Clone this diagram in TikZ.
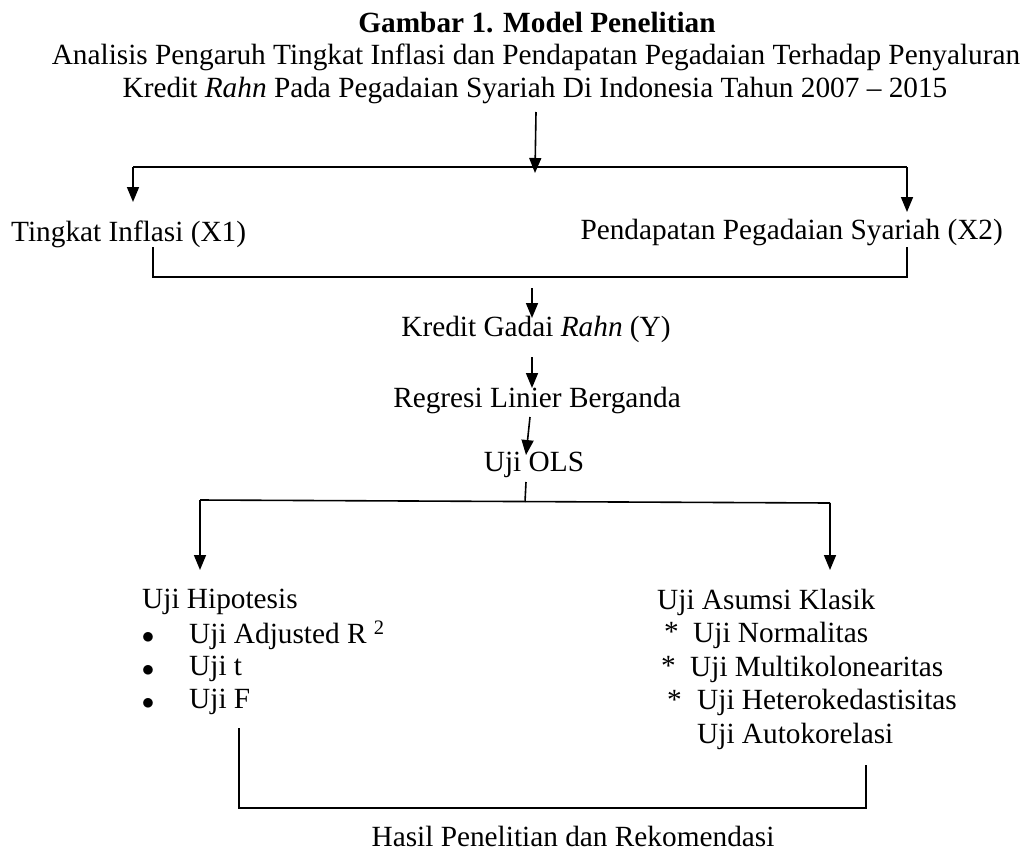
\documentclass[tikz,border=0pt]{standalone}
\usepackage{fontspec}
\setmainfont{Liberation Serif}
\usetikzlibrary{arrows.meta}
\begin{document}
\begin{tikzpicture}[x=1pt,y=-1pt,
  txt/.style={inner sep=0pt, font=\fontsize{29.3}{34}\selectfont},
  bul/.style={inner sep=0pt, font=\fontsize{44}{44}\selectfont},
  conn/.style={line width=1.6pt},
  arr/.style={conn,-{Triangle[length=15pt,width=12pt]}}]
\useasboundingbox (0,0) rectangle (1025,854);
% texts
\node[txt, font=\fontsize{29.3}{34}\selectfont\bfseries] (title) at (537,23) {Gambar 1. Model Penelitian};
\node[txt] (l1) at (536,57) {Analisis Pengaruh Tingkat Inflasi dan Pendapatan Pegadaian Terhadap Penyaluran};
\node[txt] (l2) at (535,90) {Kredit \textit{Rahn} Pada Pegadaian Syariah Di Indonesia Tahun 2007 -- 2015};
\node[txt, anchor=west] (x1) at (11,234) {Tingkat Inflasi (X1)};
\node[txt, anchor=east] (x2) at (1003,232) {Pendapatan Pegadaian Syariah (X2)};
\node[txt] (y) at (536,329) {Kredit Gadai \textit{Rahn} (Y)};
\node[txt] (reg) at (537,400) {Regresi Linier Berganda};
\node[txt] (ols) at (534,465) {Uji OLS};
\node[txt, anchor=west] (hip) at (142,602) {Uji Hipotesis};
\node[bul] (b1) at (148,638) {$\bullet$};
\node[bul] (b2) at (148,671) {$\bullet$};
\node[bul] (b3) at (148,704) {$\bullet$};
\node[txt, anchor=west] (h1) at (189,635) {Uji Adjusted R \textsuperscript{2}};
\node[txt, anchor=west] (h2) at (189,669) {Uji t};
\node[txt, anchor=west] (h3) at (189,702) {Uji F};
\node[txt, anchor=west] (kla) at (657,602) {Uji Asumsi Klasik};
\node[txt, anchor=west] (s1) at (664,632) {*};
\node[txt, anchor=west] (s2) at (661,666) {*};
\node[txt, anchor=west] (s3) at (667,700) {*};
\node[txt, anchor=west] (k1) at (693,635) {Uji Normalitas};
\node[txt, anchor=west] (k2) at (690,669) {Uji Multikolonearitas};
\node[txt, anchor=west] (k3) at (697,702) {Uji Heterokedastisitas};
\node[txt, anchor=west] (k4) at (697,736) {Uji Autokorelasi};
\node[txt] (hasil) at (573,836) {Hasil Penelitian dan Rekomendasi};
% junction coordinates
\coordinate (a0) at (536,112);
\coordinate (a1) at (535,173);
\coordinate (jl) at (133,167);
\coordinate (jr) at (907,167);
\coordinate (jlt) at (133,202);
\coordinate (jrt) at (907,212);
\coordinate (bl) at (153,247);
\coordinate (br) at (907,247);
\coordinate (c0) at (532,288);
\coordinate (c1) at (532,318);
\coordinate (d0) at (532,357);
\coordinate (d1) at (532,388);
\coordinate (e0) at (530,417);
\coordinate (e1) at (526,455);
\coordinate (f0) at (526,482);
\coordinate (f1) at (525,502);
\coordinate (gl) at (200,500);
\coordinate (gr) at (830,503);
\coordinate (glt) at (200,570);
\coordinate (grt) at (830,570);
\coordinate (hl) at (239,728);
\coordinate (hr) at (866,765);
% connectors
\draw[arr] (a0) -- (a1);
\draw[conn] (jl) -- (jr);
\draw[arr] (jl) -- (jlt);
\draw[arr] (jr) -- (jrt);
\draw[conn] (bl) -- ++(0,30) -| (br);
\draw[arr] (c0) -- (c1);
\draw[arr] (d0) -- (d1);
\draw[arr] (e0) -- (e1);
\draw[conn] (f0) -- (f1);
\draw[conn] (gl) -- (gr);
\draw[arr] (gl) -- (glt);
\draw[arr] (gr) -- (grt);
\draw[conn] (hl) -- ++(0,80) -| (hr);
\end{tikzpicture}
\end{document}
